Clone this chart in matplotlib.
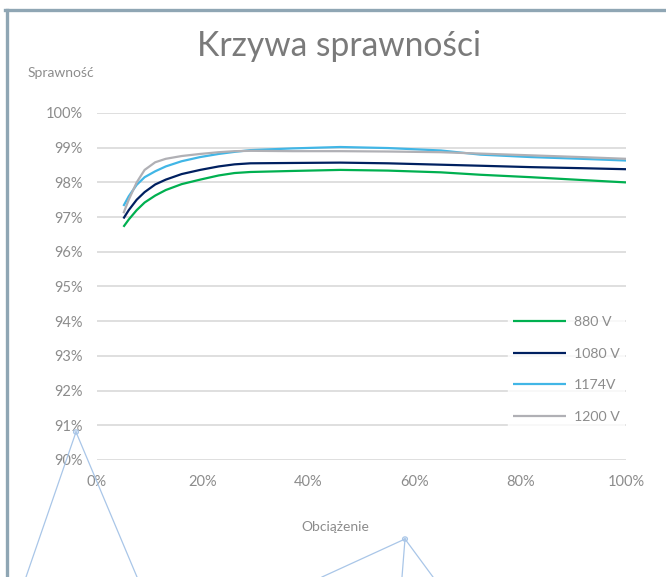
import matplotlib
matplotlib.use("Agg")
import matplotlib.pyplot as plt
from matplotlib.lines import Line2D
from matplotlib.patches import Circle
from matplotlib.ticker import FuncFormatter

# load points (%)
load = [5, 6, 7.5, 9, 11, 13, 16, 19.5, 23, 26, 29, 37, 46, 55, 65, 72.5, 82, 91.5, 100]

eff_880 = [96.72, 96.93, 97.2, 97.42, 97.62, 97.78, 97.95, 98.08, 98.2, 98.27, 98.30,
           98.33, 98.36, 98.34, 98.29, 98.22, 98.15, 98.07, 98.00]
eff_1080 = [96.96, 97.2, 97.5, 97.72, 97.94, 98.08, 98.24, 98.36, 98.46, 98.52, 98.55,
            98.56, 98.57, 98.55, 98.51, 98.48, 98.44, 98.41, 98.38]
eff_1174 = [97.32, 97.6, 97.93, 98.15, 98.32, 98.46, 98.61, 98.73, 98.82, 98.88, 98.93,
            98.98, 99.02, 98.99, 98.92, 98.80, 98.73, 98.68, 98.63]
eff_1200 = [97.11, 97.5, 98.0, 98.36, 98.58, 98.68, 98.76, 98.82, 98.87, 98.90, 98.91,
            98.90, 98.90, 98.89, 98.87, 98.83, 98.78, 98.73, 98.68]

series_labels = ["880 V", "1080 V", "1174V", "1200 V"]
series_colors = ["#00b050", "#002060", "#41b6e6", "#b0b0b5"]

x_ticks = [0, 20, 40, 60, 80, 100]
y_ticks = list(range(90, 101))

plt.rcParams["font.family"] = ["Lato", "DejaVu Sans"]
text_color = "#8c8c8c"

fig = plt.figure(figsize=(6.66, 5.77), dpi=100)
W, H = 666, 577

ax = fig.add_axes([97 / W, 1 - 460 / H, (626 - 97) / W, (460 - 113) / H])

for y_vals, lab, col in zip([eff_880, eff_1080, eff_1174, eff_1200], series_labels, series_colors):
    ax.plot(load, y_vals, color=col, linewidth=1.6, label=lab, solid_capstyle="butt",
            solid_joinstyle="round")

ax.set_xlim(0, 100)
ax.set_ylim(90, 100)
ax.set_xticks(x_ticks)
ax.set_yticks(y_ticks)
ax.xaxis.set_major_formatter(FuncFormatter(lambda v, p: f"{v:.0f}%"))
ax.yaxis.set_major_formatter(FuncFormatter(lambda v, p: f"{v:.0f}%"))
ax.tick_params(length=0, labelsize=10.5, labelcolor=text_color)
ax.tick_params(axis="x", pad=11)
ax.tick_params(axis="y", pad=10)
ax.grid(axis="y", color="#d9d9d9", linewidth=1.2)
ax.set_axisbelow(True)
for s in ax.spines.values():
    s.set_visible(False)

leg = ax.legend(loc="lower right", bbox_to_anchor=(1.009, 0.075), frameon=True,
                fontsize=10.2, handlelength=3.8, labelspacing=1.38, handletextpad=0.5,
                borderpad=0.3, fancybox=False)
leg.get_frame().set_facecolor("white")
leg.get_frame().set_edgecolor("white")
for t in leg.get_texts():
    t.set_color(text_color)

fig.text(339 / W, 1 - 46 / H, "Krzywa sprawności", ha="center", va="center",
         fontsize=24.2, color="#7a7a7a")
fig.text(28 / W, 1 - 73 / H, "Sprawność", ha="left", va="center",
         fontsize=10, color=text_color)
fig.text(335 / W, 1 - 527 / H, "Obciążenie", ha="center", va="center",
         fontsize=10, color=text_color)

# chart border (left and top edges visible in the crop)
border = "#8fa6b4"
fig.add_artist(Line2D([6.5 / W, 6.5 / W], [0, 1 - 10 / H], color=border, linewidth=2.4,
                      transform=fig.transFigure))
fig.add_artist(Line2D([5.3 / W, 1], [1 - 10 / H, 1 - 10 / H], color=border, linewidth=2.4,
                      transform=fig.transFigure))

# light blue selection handles below the plot
handle_col = "#a9c6e8"
for apex, ends in [((76, 432), [(26, 577), (137, 577)]),
                   ((405, 539), [(322, 577), (402, 577), (433, 577)])]:
    for e in ends:
        fig.add_artist(Line2D([apex[0] / W, e[0] / W], [1 - apex[1] / H, 1 - e[1] / H],
                              color=handle_col, linewidth=0.9, transform=fig.transFigure))
    fig.add_artist(Circle((apex[0] / W, 1 - apex[1] / H), 2.5 / W, transform=fig.transFigure,
                          facecolor="#dbe7f5", edgecolor=handle_col, linewidth=0.8))

fig.savefig("out.png", dpi=100, facecolor="white")
